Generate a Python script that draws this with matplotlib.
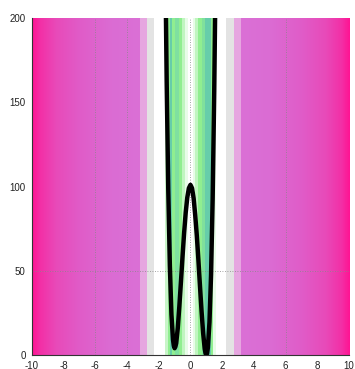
import numpy as np
import matplotlib
matplotlib.use("Agg")
import matplotlib.pyplot as plt
from matplotlib.colors import LinearSegmentedColormap

# curve
curve_x = [-1.56, -1.5, -1.4, -1.3, -1.2, -1.1, -1.05, -1.0, -0.95, -0.9, -0.8, -0.7, -0.6,
           -0.5, -0.4, -0.3, -0.2, -0.1, 0.0, 0.1, 0.2, 0.3, 0.4, 0.5, 0.6, 0.7, 0.8,
           0.9, 0.95, 1.0, 1.05, 1.1, 1.2, 1.3, 1.4, 1.5, 1.56]
curve_y = [212, 162, 98, 53, 24, 9, 5.5, 4, 5, 7, 16, 29, 43.5,
           58.5, 72.5, 84.5, 93.5, 99, 101, 99, 93, 83, 71, 56.5, 41, 26, 13,
           3.6, 1, 0, 1, 4.4, 19.5, 47.7, 92.4, 156.5, 206]

# background stripes in the middle (left edge, right edge, colour)
band_left = [-3.18, -2.72, -2.27, -1.58, -1.40, -1.27, -1.15, -0.95, -0.75, -0.56, -0.35,
             -0.15, 0.15, 0.30, 0.45, 0.70, 0.92, 1.32, 1.45, 1.58, 2.27, 2.72]
band_right = [-2.72, -2.27, -1.58, -1.40, -1.27, -1.15, -0.95, -0.75, -0.56, -0.35, -0.15,
              0.15, 0.30, 0.45, 0.70, 0.92, 1.32, 1.45, 1.58, 2.27, 2.72, 3.18]
band_colors = ['#E6A6E0', '#E3E3E3', '#FFFFFF', '#C8F5C8', '#90EE90', '#66CDAA', '#90EE90',
               '#7FE0A0', '#90EE90', '#C0F5C0', '#E8FCE8', '#FFFFFF', '#E8FCE8', '#C0F5C0',
               '#90EE90', '#80E09C', '#66CDAA', '#90EE90', '#E8FCE8', '#FFFFFF',
               '#E3E3E3', '#E6A6E0']

# outer gradient (distance from 0 and colour)
grad_pos = [3.18, 5.0, 7.0, 8.5, 9.5, 10.0]
grad_colors = ['#DA70D6', '#DB6CD3', '#E05CC8', '#E84AB9', '#F32FA6', '#FF1493']

xticks = [-10, -8, -6, -4, -2, 0, 2, 4, 6, 8, 10]
yticks = [0, 50, 100, 150, 200]
grid_x = [-6, -4, 0, 6]
grid_y = [50]

fig = plt.figure(figsize=(3.55, 3.69), dpi=100)
ax = fig.add_axes([0.090, 0.038, 0.893, 0.913])

# gradient on both sides
pos = np.array(grad_pos)
cmap = LinearSegmentedColormap.from_list(
    'bg', list(zip((pos - pos[0]) / (pos[-1] - pos[0]), grad_colors)))
row = np.linspace(0, 1, 400)[None, :]
ax.imshow(row, cmap=cmap, aspect='auto', extent=[grad_pos[0], grad_pos[-1], 0, 200],
          interpolation='bilinear', zorder=0)
ax.imshow(row[:, ::-1], cmap=cmap, aspect='auto', extent=[-grad_pos[-1], -grad_pos[0], 0, 200],
          interpolation='bilinear', zorder=0)

for l, r, c in zip(band_left, band_right, band_colors):
    ax.axvspan(l, r, color=c, lw=0, zorder=0.5)

for gx in grid_x:
    ax.axvline(gx, color='#888888', lw=0.6, ls=(0, (1, 2)), zorder=1)
for gy in grid_y:
    ax.axhline(gy, color='#888888', lw=0.6, ls=(0, (1, 2)), zorder=1)

ax.plot(curve_x, curve_y, color='black', lw=3.2, solid_joinstyle='round', zorder=3)

ax.set_xlim(-10, 10)
ax.set_ylim(0, 200)
ax.set_xticks(xticks)
ax.set_yticks(yticks)
ax.set_xticklabels([str(t) for t in xticks])
ax.tick_params(length=0, labelsize=7, colors='#222222')
ax.tick_params(axis='y', pad=4.5)
ax.tick_params(axis='x', pad=4)
for lab in ax.get_xticklabels() + ax.get_yticklabels():
    lab.set_fontfamily('Liberation Sans')
for s in ['top', 'right']:
    ax.spines[s].set_visible(False)
for s in ['left', 'bottom']:
    ax.spines[s].set_color('#333333')
    ax.spines[s].set_linewidth(0.8)

fig.savefig('out.png', dpi=100)
